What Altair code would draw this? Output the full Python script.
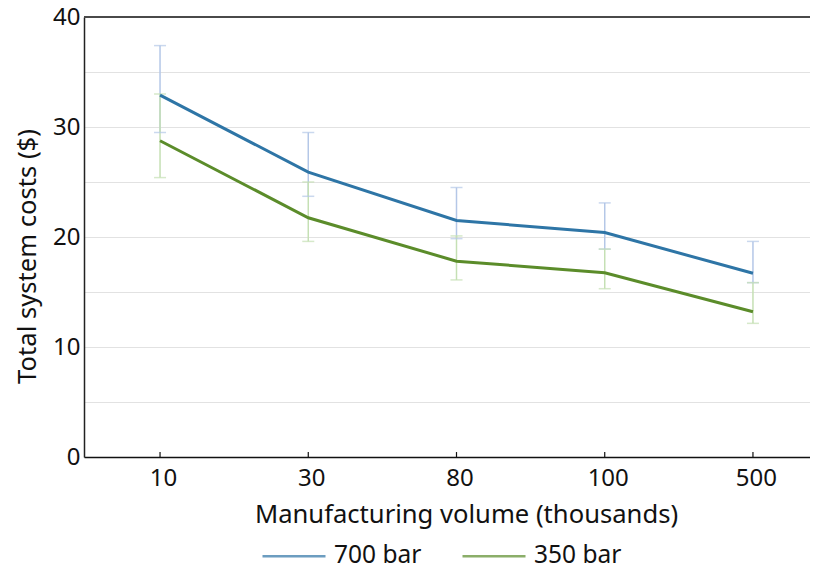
import altair as alt
import pandas as pd

volumes = ["10", "30", "80", "100", "500"]
series = ["700 bar", "350 bar"]
cost_700 = [32.9, 25.9, 21.5, 20.4, 16.7]
low_700 = [29.5, 23.7, 19.85, 18.9, 15.85]
high_700 = [37.4, 29.5, 24.5, 23.1, 19.6]
cost_350 = [28.75, 21.75, 17.8, 16.75, 13.2]
low_350 = [25.4, 19.6, 16.1, 15.3, 12.15]
high_350 = [33.0, 25.0, 20.1, 18.9, 15.85]

line_colors = ["#2e75a6", "#5b8c2a"]
err_colors = ["#b4c7e7", "#c5e0b4"]

rows = []
for s, vals, lo, hi, ec in [
    (series[0], cost_700, low_700, high_700, err_colors[0]),
    (series[1], cost_350, low_350, high_350, err_colors[1]),
]:
    for v, c, l, h in zip(volumes, vals, lo, hi):
        rows.append({"volume": v, "series": s, "cost": c, "low": l, "high": h, "ecolor": ec})
df = pd.DataFrame(rows)

FONT = "Noto Sans"
LABEL_SIZE = 24
TITLE_SIZE = 25.6
xscale = alt.Scale(type="point", padding=0.513, domain=volumes)
yscale = alt.Scale(domain=[0, 40], nice=False, zero=True)

base = alt.Chart(df)

x_enc = alt.X(
    "volume:N",
    sort=volumes,
    scale=xscale,
    axis=alt.Axis(
        title="Manufacturing volume (thousands)",
        labelAngle=0,
        ticks=False,
        grid=False,
        labelPadding=9,
        labelOffset=3,
        titlePadding=12,
        titleX=382,
        titleAlign="center",
        domainColor="#111111",
        domainWidth=1.5,
    ),
)

y_axis = alt.Axis(
    title="Total system costs ($)",
    values=[0, 5, 10, 15, 20, 25, 30, 35, 40],
    labelExpr="datum.value % 10 == 0 ? datum.label : ''",
    ticks=False,
    grid=True,
    gridColor="#e2e2e2",
    gridWidth=1,
    labelPadding=4,
    titlePadding=12,
    titleY=239,
    titleAlign="center",
    domainColor="#222222",
    domainWidth=1.5,
)

err_rule = base.mark_rule(strokeWidth=1.5).encode(
    x=x_enc,
    y=alt.Y("low:Q", scale=yscale, axis=y_axis),
    y2="high:Q",
    color=alt.Color("ecolor:N", scale=None),
)
err_lo = base.mark_tick(thickness=1.5, size=12, orient="horizontal").encode(
    x=alt.X("volume:N", sort=volumes, scale=xscale),
    y=alt.Y("low:Q", scale=yscale),
    color=alt.Color("ecolor:N", scale=None),
)
err_hi = base.mark_tick(thickness=1.5, size=12, orient="horizontal").encode(
    x=alt.X("volume:N", sort=volumes, scale=xscale),
    y=alt.Y("high:Q", scale=yscale),
    color=alt.Color("ecolor:N", scale=None),
)

lines = base.mark_line(strokeWidth=3).encode(
    x=alt.X("volume:N", sort=volumes, scale=xscale),
    y=alt.Y("cost:Q", scale=yscale),
    color=alt.Color(
        "series:N",
        sort=series,
        scale=alt.Scale(domain=series, range=line_colors),
        legend=alt.Legend(
            title=None,
            orient="none",
            direction="horizontal",
            legendX=177,
            legendY=506,
            padding=0,
            symbolType="stroke",
            symbolSize=3969,
            symbolStrokeWidth=2.5,
            labelFontSize=24.5,
            labelFont=FONT,
            labelColor="#111111",
            labelOffset=7,
            columnPadding=35,
        ),
    ),
)

tick_df = pd.DataFrame({"volume": volumes})
xticks = alt.Chart(tick_df).mark_rule(color="#111111", strokeWidth=1.2).encode(
    x=alt.X("volume:N", sort=volumes, scale=xscale),
    y=alt.Y(datum=0, scale=yscale),
    y2=alt.Y2(datum=0.45),
)

top_rule = alt.Chart(pd.DataFrame({"v": [40]})).mark_rule(color="#4a4a4a", strokeWidth=2).encode(
    y=alt.Y("v:Q", scale=yscale)
)

chart = (
    alt.layer(err_rule, err_lo, err_hi, lines, xticks, top_rule)
    .properties(
        width=745,
        height=440,
        autosize=alt.AutoSizeParams(type="none"),
        padding={"left": 76, "top": 9, "right": -19, "bottom": 109},
    )
    .configure_axis(
        labelFont=FONT,
        titleFont=FONT,
        labelFontSize=LABEL_SIZE,
        titleFontSize=TITLE_SIZE,
        titleFontWeight="normal",
        labelColor="#111111",
        titleColor="#111111",
    )
    .configure_view(stroke=None)
)

chart.save("out.html", embed_options={"renderer": "svg", "actions": False})
